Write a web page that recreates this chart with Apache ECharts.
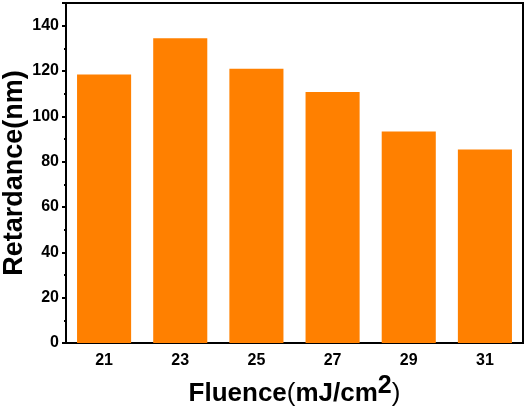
<!DOCTYPE html>
<html>
<head>
<meta charset="utf-8">
<script src="https://cdn.jsdelivr.net/npm/echarts@6/dist/echarts.min.js"></script>
<style>
  html, body { margin: 0; padding: 0; background: #fff; }
  #main { width: 526px; height: 408px; }
</style>
</head>
<body>
<div id="main"></div>
<script>
// fluence categories (mJ/cm2) and retardance values (nm)
var fluence = ['21', '23', '25', '27', '29', '31'];
var retardance = [118.5, 134.4, 121, 110.7, 93.3, 85.4];

var chart = echarts.init(document.getElementById('main'));
var fontFam = '"Liberation Sans", Arial, sans-serif';

var option = {
  animation: false,
  grid: {
    left: 66,
    right: 3,
    top: 3,
    bottom: 65,
    containLabel: false,
    outerBoundsMode: 'none',
    show: true,
    borderColor: '#000',
    borderWidth: 2
  },
  xAxis: [
    {
      type: 'category',
      data: fluence,
      axisLine: { lineStyle: { color: '#000', width: 2 } },
      axisTick: { alignWithLabel: true, length: 5, lineStyle: { color: '#000', width: 2 } },
      axisLabel: { color: '#000', fontSize: 16, fontWeight: 'bold', fontFamily: fontFam, margin: 10 },
      name: '{b|Fluence}{p|(}{b|mJ/cm}{s|2}{p|)}',
      nameLocation: 'middle',
      nameGap: 31,
      nameMoveOverlap: false,
      nameTextStyle: {
        rich: {
          b: { fontSize: 26, fontWeight: 'bold', color: '#000', fontFamily: fontFam, verticalAlign: 'bottom' },
          p: { fontSize: 26, color: '#000', fontFamily: fontFam, verticalAlign: 'bottom' },
          s: { fontSize: 25, fontWeight: 'bold', color: '#000', fontFamily: fontFam, padding: [0, 0, 8, 0], verticalAlign: 'bottom' }
        }
      }
    },
    {
      // small ticks between the categories
      type: 'category',
      data: fluence,
      position: 'bottom',
      axisLine: { show: false },
      axisTick: { alignWithLabel: false, length: 3, lineStyle: { color: '#000', width: 2 } },
      axisLabel: { show: false }
    }
  ],
  yAxis: {
    type: 'value',
    min: 0,
    max: 150,
    interval: 20,
    name: 'Retardance(nm)',
    nameLocation: 'middle',
    nameGap: 38,
    nameMoveOverlap: false,
    nameTextStyle: { fontSize: 27, fontWeight: 'bold', color: '#000', fontFamily: fontFam },
    axisLine: { show: true, lineStyle: { color: '#000', width: 2 } },
    axisTick: { show: true, length: 4, lineStyle: { color: '#000', width: 2 } },
    minorTick: { show: true, splitNumber: 2, length: 2, lineStyle: { color: '#000', width: 2 } },
    splitLine: { show: false },
    axisLabel: { color: '#000', fontSize: 16, fontWeight: 'bold', fontFamily: fontFam, margin: 7, showMaxLabel: false }
  },
  series: [
    {
      type: 'bar',
      data: retardance,
      barCategoryGap: '29%',
      itemStyle: { color: '#FF8000' }
    }
  ]
};
chart.setOption(option);
</script>
</body>
</html>
